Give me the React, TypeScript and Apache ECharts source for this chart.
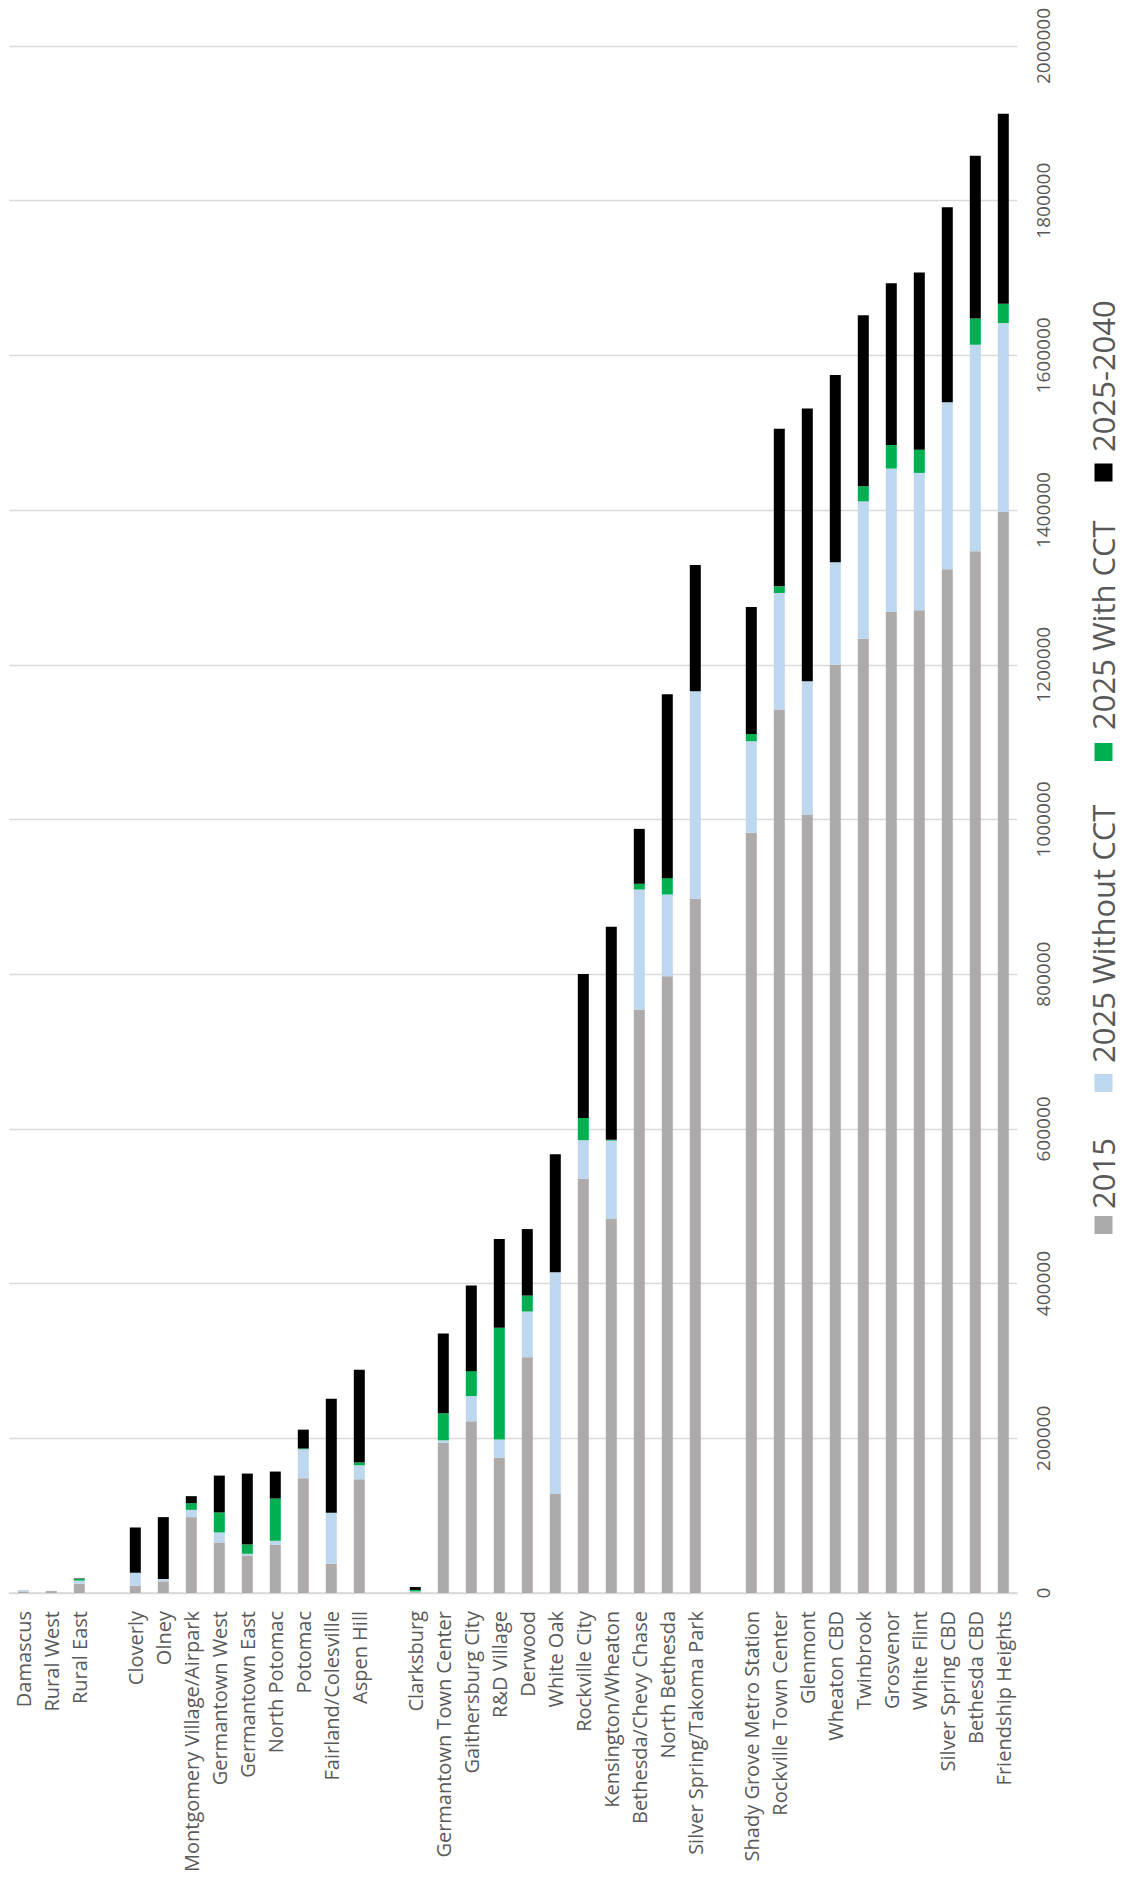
import React, { useEffect, useRef } from "react";
import * as echarts from "echarts";

const categories = [
  "Damascus", "Rural West", "Rural East", " ",
  "Cloverly", "Olney", "Montgomery Village/Airpark", "Germantown West", "Germantown East",
  "North Potomac", "Potomac", "Fairland/Colesville", "Aspen Hill", "  ",
  "Clarksburg", "Germantown Town Center", "Gaithersburg City", "R&D Village", "Derwood",
  "White Oak", "Rockville City", "Kensington/Wheaton", "Bethesda/Chevy Chase", "North Bethesda",
  "Silver Spring/Takoma Park", "   ",
  "Shady Grove Metro Station", "Rockville Town Center", "Glenmont", "Wheaton CBD", "Twinbrook",
  "Grosvenor", "White Flint", "Silver Spring CBD", "Bethesda CBD", "Friendship Heights",
];

const seriesNames = ["2015", "2025 Without CCT", "2025 With CCT", "2025-2040"];
const seriesColors = ["#AEAAAA", "#BDD7EE", "#00B050", "#000000"];

const v2015 = [
  2000, 2500, 12000, null,
  9400, 15100, 98100, 65400, 48600, 62300, 148400, 37800, 147100, null,
  1000, 194000, 221900, 174600, 304900, 128100, 535500, 483400, 754500, 797400, 897400, null,
  982800, 1142100, 1006400, 1200000, 1233800, 1268200, 1270400, 1323500, 1346700, 1397400,
];
const v2025Without = [
  1800, 300, 4000, null,
  16800, 3000, 9400, 12900, 2100, 5200, 37400, 65800, 18000, null,
  1000, 3400, 32700, 23700, 59000, 286500, 49900, 101500, 155000, 105600, 268400, null,
  118400, 150700, 172300, 132500, 177500, 185500, 177700, 215900, 267100, 244300,
];
const v2025With = [
  0, 0, 2500, null,
  0, 0, 8600, 25800, 12100, 54600, 1000, 0, 3500, null,
  2000, 34900, 32200, 144500, 20600, 0, 28800, 1000, 7400, 21200, 0, null,
  9400, 8600, 0, 0, 19500, 30500, 30000, 0, 33900, 25000,
];
const v2040 = [
  0, 0, 500, null,
  58500, 80000, 9100, 47700, 91600, 34900, 24400, 147600, 120000, null,
  3700, 103200, 110600, 114800, 86000, 152700, 186000, 275600, 71000, 237700, 163200, null,
  164100, 203700, 352600, 242000, 221000, 209000, 229000, 252000, 210400, 245600,
];

const seriesData = [v2015, v2025Without, v2025With, v2040];

// legend positions (page coords): square center y, text start y
const legendSquareY = [1225, 1083, 752, 472.5];
const legendTextY = [1209, 1063, 730, 452];

const FONT = "'Open Sans', 'DejaVu Sans', sans-serif";

export default function App() {
  const ref = useRef<HTMLDivElement>(null);

  useEffect(() => {
    if (!ref.current) return;
    const chart = echarts.init(ref.current, null, { renderer: "svg" });

    const legendGraphics: any[] = [];
    seriesNames.forEach((name, i) => {
      legendGraphics.push({
        type: "rect",
        shape: { x: 1094.5, y: legendSquareY[i] - 9, width: 18, height: 18 },
        style: { fill: seriesColors[i] },
      });
      legendGraphics.push({
        type: "text",
        x: 1102.5,
        y: legendTextY[i],
        rotation: Math.PI / 2,
        style: {
          text: name,
          x: 0,
          y: 0,
          align: "left",
          verticalAlign: "middle",
          fontSize: 31,
          lineHeight: 31,
          fontFamily: FONT,
          fill: "#595959",
        },
      });
    });

    chart.setOption({
      animation: false,
      backgroundColor: "#ffffff",
      textStyle: { fontFamily: FONT },
      grid: {
        left: 9.3,
        width: 1008,
        top: 46,
        height: 1547,
        containLabel: false,
        outerBoundsMode: "none",
      },
      xAxis: {
        type: "category",
        data: categories,
        axisTick: { show: false },
        axisLine: { show: true, lineStyle: { color: "#d9d9d9", width: 1.5 } },
        axisLabel: {
          interval: 0,
          rotate: 90,
          fontSize: 20,
          fontFamily: FONT,
          color: "#595959",
          margin: 18,
        },
      },
      yAxis: {
        type: "value",
        position: "right",
        min: 0,
        max: 2000000,
        interval: 200000,
        axisLine: { show: false },
        axisTick: { show: false },
        splitLine: { show: true, lineStyle: { color: "#d9d9d9", width: 1.3 } },
        axisLabel: {
          rotate: 90,
          fontSize: 19,
          fontFamily: FONT,
          color: "#595959",
          margin: 16,
          formatter: (v: number) => String(v),
        },
      },
      series: seriesNames.map((name, i) => ({
        name,
        type: "bar",
        stack: "total",
        barWidth: 11,
        data: seriesData[i],
        itemStyle: { color: seriesColors[i] },
      })),
      graphic: legendGraphics,
    });

    return () => {
      chart.dispose();
    };
  }, []);

  return (
    <div
      ref={ref}
      style={{ position: "absolute", left: 0, top: 0, width: 1122, height: 1877 }}
    />
  );
}
